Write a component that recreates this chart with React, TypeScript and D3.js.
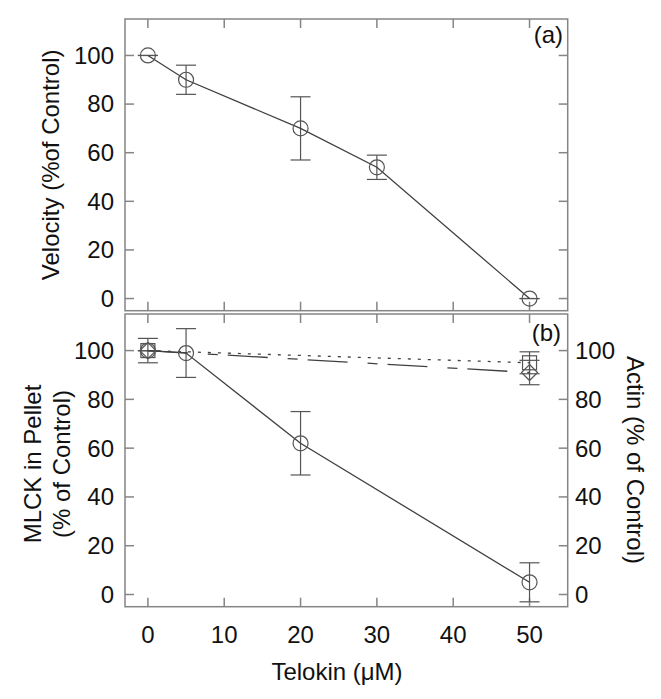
import React from "react";
import * as d3 from "d3";

// Panel (a): velocity
const velX = [0, 5, 20, 30, 50];
const velY = [100, 90, 70, 54, 0];
const velErr = [0, 6, 13, 5, 0];

// Panel (b): MLCK in pellet (circles, solid)
const mlckX = [0, 5, 20, 50];
const mlckY = [100, 99, 62, 5];
const mlckErr = [5, 10, 13, 8];

// Panel (b): actin series (squares, dotted) and (diamonds, dashed)
const actinSqX = [0, 50];
const actinSqY = [100, 95];
const actinSqErr = [0, 4.5];
const actinDiX = [0, 50];
const actinDiY = [100, 91];
const actinDiErr = [0, 5];

const xTicks = [0, 10, 20, 30, 40, 50];
const yTicks = [0, 20, 40, 60, 80, 100];

const W = 661;
const H = 699;
const LEFT = 125;
const RIGHT = 567.7;
const TOP_A = 19;
const BOT_A = 310.7;
const TOP_B = 314;
const BOT_B = 606.7;

const FONT = "'Liberation Sans', Arial, sans-serif";
const FRAME = "#858585";
const LINE = "#404040";
const MARK = "#555";
const TICK = 9;

const x = d3.scaleLinear().domain([-3, 55]).range([LEFT, RIGHT]);
const yA = d3.scaleLinear().domain([-5, 115]).range([BOT_A, TOP_A]);
const yB = d3.scaleLinear().domain([-5, 115]).range([BOT_B, TOP_B]);

function Frame({ top, bottom }: { top: number; bottom: number }) {
  const y = d3.scaleLinear().domain([-5, 115]).range([bottom, top]);
  return (
    <g stroke={FRAME} strokeWidth={1.5} fill="none">
      <rect x={LEFT} y={top} width={RIGHT - LEFT} height={bottom - top} />
      {xTicks.map((t) => (
        <g key={"x" + t}>
          <line x1={x(t)} x2={x(t)} y1={bottom} y2={bottom - TICK} />
          <line x1={x(t)} x2={x(t)} y1={top} y2={top + TICK} />
        </g>
      ))}
      {yTicks.map((t) => (
        <g key={"y" + t}>
          <line x1={LEFT} x2={LEFT + TICK} y1={y(t)} y2={y(t)} />
          <line x1={RIGHT} x2={RIGHT - TICK} y1={y(t)} y2={y(t)} />
        </g>
      ))}
    </g>
  );
}

function ErrBars({ xs, ys, es, y }: { xs: number[]; ys: number[]; es: number[]; y: d3.ScaleLinear<number, number> }) {
  return (
    <g stroke={MARK} strokeWidth={1.2} fill="none">
      {xs.map((xv, i) => {
        const cx = x(xv);
        const y1 = y(ys[i] + es[i]);
        const y2 = y(ys[i] - es[i]);
        return (
          <g key={i}>
            <line x1={cx} x2={cx} y1={y1} y2={y2} />
            <line x1={cx - 10} x2={cx + 10} y1={y1} y2={y1} />
            <line x1={cx - 10} x2={cx + 10} y1={y2} y2={y2} />
          </g>
        );
      })}
    </g>
  );
}

export default function App() {
  const lineA = d3.line<number>().x((_, i) => x(velX[i])).y((d) => yA(d));
  const lineM = d3.line<number>().x((_, i) => x(mlckX[i])).y((d) => yB(d));
  const lineS = d3.line<number>().x((_, i) => x(actinSqX[i])).y((d) => yB(d));
  const lineD = d3.line<number>().x((_, i) => x(actinDiX[i])).y((d) => yB(d));

  const circle = (cx: number, cy: number, k: string) => (
    <circle key={k} cx={cx} cy={cy} r={7.5} fill="none" stroke={MARK} strokeWidth={1.2} />
  );

  return (
    <svg width={W} height={H} style={{ position: "absolute", left: 0, top: 0, background: "#fff" }} fontFamily={FONT}>
      <rect x={0} y={0} width={W} height={H} fill="#fff" />
      <Frame top={TOP_A} bottom={BOT_A} />
      <Frame top={TOP_B} bottom={BOT_B} />

      {/* Panel a */}
      <ErrBars xs={velX} ys={velY} es={velErr} y={yA} />
      <path d={lineA(velY) || ""} fill="none" stroke={LINE} strokeWidth={1.3} />
      {velX.map((xv, i) => circle(x(xv), yA(velY[i]), "a" + i))}

      {/* Panel b */}
      <ErrBars xs={mlckX} ys={mlckY} es={mlckErr} y={yB} />
      <ErrBars xs={actinSqX} ys={actinSqY} es={actinSqErr} y={yB} />
      <ErrBars xs={actinDiX} ys={actinDiY} es={actinDiErr} y={yB} />
      <path d={lineS(actinSqY) || ""} fill="none" stroke={LINE} strokeWidth={1.3} strokeDasharray="3,7" />
      <path d={lineD(actinDiY) || ""} fill="none" stroke={LINE} strokeWidth={1.3} strokeDasharray="40,20,10,10" />
      <path d={lineM(mlckY) || ""} fill="none" stroke={LINE} strokeWidth={1.3} />
      {actinSqX.map((xv, i) => (
        <rect key={"s" + i} x={x(xv) - 7} y={yB(actinSqY[i]) - 7} width={14} height={14} fill="none" stroke={MARK} strokeWidth={1.2} />
      ))}
      {actinDiX.map((xv, i) => {
        const cx = x(xv);
        const cy = yB(actinDiY[i]);
        return (
          <path key={"d" + i} d={`M${cx},${cy - 8}L${cx + 8},${cy}L${cx},${cy + 8}L${cx - 8},${cy}Z`} fill="none" stroke={MARK} strokeWidth={1.2} />
        );
      })}
      {mlckX.map((xv, i) => circle(x(xv), yB(mlckY[i]), "m" + i))}

      {/* Tick labels */}
      <g fontSize={24} fill="#111">
        {yTicks.map((t) => (
          <text key={"la" + t} x={114} y={yA(t)} dy="0.35em" textAnchor="end">{t}</text>
        ))}
        {yTicks.map((t) => (
          <text key={"lb" + t} x={114} y={yB(t)} dy="0.35em" textAnchor="end">{t}</text>
        ))}
        {yTicks.map((t) => (
          <text key={"rb" + t} x={575} y={yB(t)} dy="0.35em" textAnchor="start">{t}</text>
        ))}
        {xTicks.map((t) => (
          <text key={"xb" + t} x={x(t)} y={643} textAnchor="middle">{t}</text>
        ))}
      </g>

      {/* Panel labels */}
      <text x={563} y={43} fontSize={24} textAnchor="end" fill="#111">(a)</text>
      <text x={561} y={341} fontSize={24} textAnchor="end" fill="#111">(b)</text>

      {/* Axis titles */}
      <text x={337} y={680} fontSize={24} textAnchor="middle" fill="#111">Telokin (μM)</text>
      <text transform={`translate(59,${(TOP_A + BOT_A) / 2}) rotate(-90)`} fontSize={24} textAnchor="middle" fill="#111">Velocity (%of Control)</text>
      <text transform={`translate(41,464) rotate(-90)`} fontSize={24} textAnchor="middle" fill="#111">MLCK in Pellet</text>
      <text transform={`translate(70,464) rotate(-90)`} fontSize={24} textAnchor="middle" fill="#111">(% of Control)</text>
      <text transform={`translate(627,460) rotate(90)`} fontSize={24} textAnchor="middle" fill="#111">Actin (% of Control)</text>
    </svg>
  );
}
